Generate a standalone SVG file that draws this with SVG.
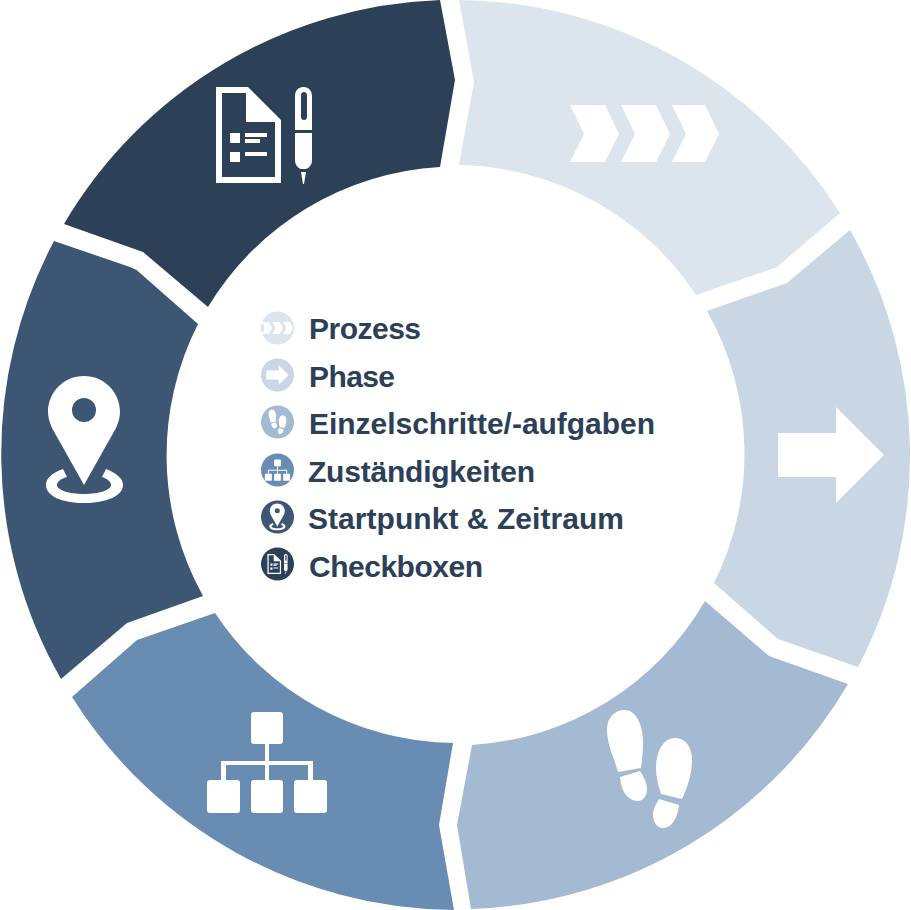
<svg xmlns="http://www.w3.org/2000/svg" width="911" height="910" viewBox="0 0 911 910">
<style>
.t{font-family:"Liberation Sans",Arial,sans-serif;font-weight:700;font-size:30px;fill:#2c4058}
.w{fill:#fff}
</style>
<defs>
<g id="chev"><path d="M570 105H605L619 134L605 162H570L584 134Z"/><path d="M621 105H656L670 134L656 162H621L635 134Z"/><path d="M672 105H705L719 134L705 162H672L686 134Z"/></g>
<path id="arrow" d="M778 433H836V407L884 455L836 503V477H778Z"/>
<g id="steps">
<path d="M625 710C637 710 643 727 643 742C643 752 642 761 641 768L618 772C615 760 607 745 607 730C607 718 614 710 625 710Z"/>
<path d="M620 777L640 771C644 777 647 783 647 789C647 796 643 801 638 801C627 801 621 790 620 777Z"/>
<path d="M675 738C686 738 692 748 692 760C692 775 687 788 682 799L661 794C658 785 656 777 656 768C656 752 663 738 675 738Z"/>
<path d="M659 799L679 805C678 815 673 828 663 828C657 828 653 822 653 815C653 809 656 804 659 799Z"/>
</g>
<g id="org">
<rect x="251" y="712" width="32" height="32" rx="3"/>
<rect x="207" y="780" width="33" height="33" rx="3"/>
<rect x="251" y="780" width="32" height="33" rx="3"/>
<rect x="294" y="780" width="33" height="33" rx="3"/>
<path d="M265 744H269V761H313V780H308V765H269V780H265V765H226V780H221V761H265Z"/>
</g>
<g id="pin">
<path fill-rule="evenodd" d="M84 376C104 376 120 392 120 412C120 418 118 423 116 428L84 485L52 428C50 423 48 418 48 412C48 392 64 376 84 376ZM84 398A12 12 0 1 0 84 422A12 12 0 1 0 84 398Z"/>
<path d="M63 469L67 477C60 479 57 482 57 485C57 490 69 494 84 494C99 494 111 490 111 485C111 482 108 479 102 477L106 469C116 473 123 478 123 485C123 496 106 503 84 503C62 503 46 496 46 485C46 478 52 473 63 469Z"/>
</g>
<g id="check">
<path fill-rule="evenodd" d="M216 87H248L281 120V183H216ZM222 93V177H275V122H246V93Z"/>
<path d="M230 133H240V143H230ZM230 152H240V162H230ZM245 133H267V137H245ZM245 139H260V143H245ZM245 152H267V156H245Z"/>
<path fill-rule="evenodd" d="M303.500 87C309 87 312 91 312 96V130H295V96C295 91 298 87 303.500 87ZM304 92C302 92 301 93 301 96V116C301 119 302 120 304 120C306 120 307 119 307 116V96C307 93 306 92 304 92Z"/>
<path d="M295 133H312V160C312 165 309 168 306 169H301C298 168 295 165 295 160ZM301 172H306L304 184H303Z"/>
</g>
</defs>
<g id="connectors"></g>
<g id="seg1"><path fill="#dce4ed" d="M459 0A455 455 0 0 1 840 213L777 267L696 295A290 290 0 0 0 459 165L474 82Z"/><use href="#chev" class="w"/></g>
<g id="seg2"><path fill="#c9d6e3" d="M850 230A455 455 0 0 1 858 667L778 639L714 583A290 290 0 0 0 707 311L787 283Z"/><use href="#arrow" class="w"/></g>
<g id="seg3"><path fill="#a4bad2" d="M848 684A455 455 0 0 1 471 909L457 825L472 745A290 290 0 0 0 705 601L769 656Z"/><use href="#steps" class="w"/></g>
<g id="seg4"><path fill="#688cb2" d="M454 910A455 455 0 0 1 72 697L137 640L215 613A290 290 0 0 0 453 743L439 825Z"/><use href="#org" class="w"/></g>
<g id="seg5"><path fill="#3c5673" d="M61 679A455 455 0 0 1 54 241L130 267Q136 269 140 273L198 324A290 290 0 0 0 203 596L127 623Z"/><use href="#pin" class="w"/></g>
<g id="seg6"><path fill="#2c4058" d="M64 224A455 455 0 0 1 440 0L455 80L440 167A290 290 0 0 0 208 307L143 252Z"/><use href="#check" class="w"/></g>
<g id="legend-prozess"><circle cx="277.500" cy="328" r="16.500" fill="#dce4ed"/><use href="#chev" class="w" transform="translate(277.500 328) scale(.21) translate(-645 -134)"/><text class="t" x="309" y="339" textLength="112">Prozess</text></g>
<g id="legend-phase"><circle cx="277.500" cy="375" r="16.500" fill="#c9d6e3"/><use href="#arrow" class="w" transform="translate(277.500 375) scale(.21) translate(-831 -455)"/><text class="t" x="309" y="387" textLength="86">Phase</text></g>
<g id="legend-einzel"><circle cx="277.500" cy="422" r="16.500" fill="#a4bad2"/><use href="#steps" class="w" transform="translate(277.500 422) scale(.21) translate(-650 -770)"/><text class="t" x="309" y="434" textLength="346">Einzelschritte/-aufgaben</text></g>
<g id="legend-zust"><circle cx="277.500" cy="470" r="16.500" fill="#688cb2"/><use href="#org" class="w" transform="translate(277.500 470) scale(.21) translate(-267 -762)"/><text class="t" x="308" y="482" textLength="227">Zuständigkeiten</text></g>
<g id="legend-start"><circle cx="277.500" cy="517" r="16.500" fill="#3c5673"/><use href="#pin" class="w" transform="translate(277.500 517) scale(.21) translate(-85 -440)"/><text class="t" x="308" y="529" textLength="316">Startpunkt &amp; Zeitraum</text></g>
<g id="legend-check"><circle cx="277.500" cy="564" r="16.500" fill="#2c4058"/><use href="#check" class="w" transform="translate(277.500 564) scale(.21) translate(-264 -135)"/><text class="t" x="309" y="577" textLength="174">Checkboxen</text></g>
</svg>
